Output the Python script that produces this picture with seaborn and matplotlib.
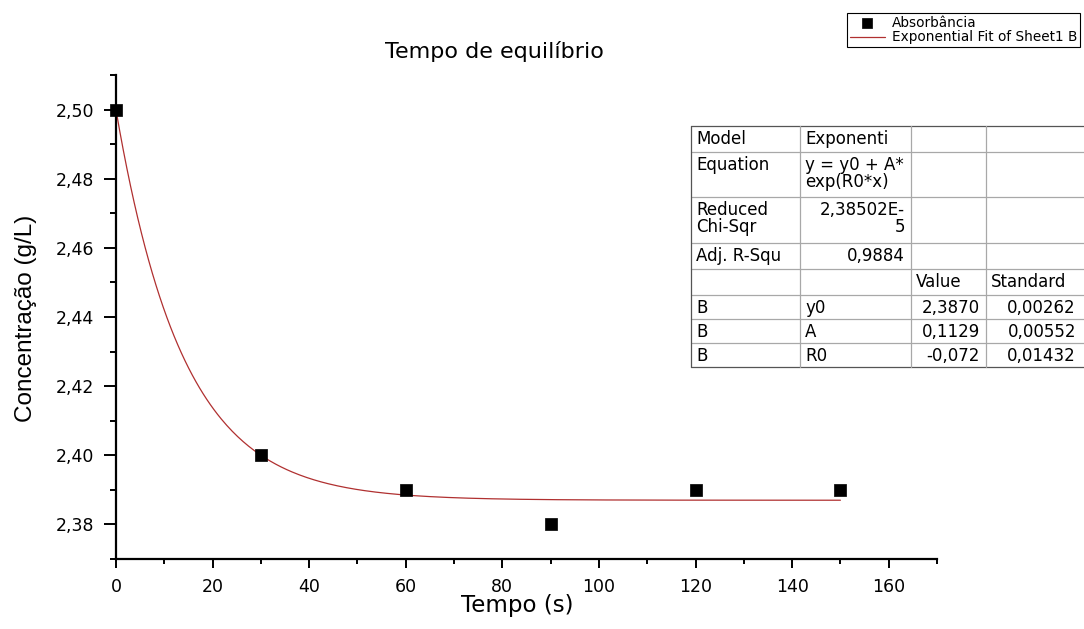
import numpy as np
import pandas as pd
import matplotlib
matplotlib.use("Agg")
import matplotlib.pyplot as plt
import seaborn as sns
from matplotlib.lines import Line2D
from matplotlib.patches import Rectangle
from matplotlib.ticker import FixedLocator, MultipleLocator

# Measured equilibrium data
tempo = [0, 30, 60, 90, 120, 150]
concentracao = [2.50, 2.40, 2.39, 2.38, 2.39, 2.39]

# Exponential fit parameters (y = y0 + A*exp(R0*x))
fit_y0 = 2.3870
fit_A = 0.1129
fit_R0 = -0.072

x_ticks = [0, 20, 40, 60, 80, 100, 120, 140, 160]
x_tick_labels = ["0", "20", "40", "60", "80", "100", "120", "140", "160"]
y_ticks = [2.38, 2.40, 2.42, 2.44, 2.46, 2.48, 2.50]
y_tick_labels = ["2,38", "2,40", "2,42", "2,44", "2,46", "2,48", "2,50"]

# Fit report table
table_cells = [
    ["Model", "Exponenti", "", ""],
    ["Equation", "y = y0 + A*\nexp(R0*x)", "", ""],
    ["Reduced\nChi-Sqr", "2,38502E-\n5", "", ""],
    ["Adj. R-Squ", "0,9884", "", ""],
    ["", "", "Value", "Standard"],
    ["B", "y0", "2,3870", "0,00262"],
    ["B", "A", "0,1129", "0,00552"],
    ["B", "R0", "-0,072", "0,01432"],
]
table_align = [
    ["l", "l", "l", "l"],
    ["l", "l", "l", "l"],
    ["l", "r", "l", "l"],
    ["l", "r", "l", "l"],
    ["l", "l", "l", "l"],
    ["l", "l", "r", "r"],
    ["l", "l", "r", "r"],
    ["l", "l", "r", "r"],
]

sns.set_style("ticks")
plt.rcParams["font.family"] = ["DejaVu Sans"]
plt.rcParams["text.color"] = "black"
plt.rcParams["axes.labelcolor"] = "black"
plt.rcParams["xtick.color"] = "black"
plt.rcParams["ytick.color"] = "black"

W, H = 1084, 629
fig = plt.figure(figsize=(W / 100, H / 100), dpi=100)


def fx(px):
    return px / W


def fy(py):
    return 1 - py / H


ax = fig.add_axes([fx(116), fy(559), fx(937) - fx(116), fy(75) - fy(559)])

df_pts = pd.DataFrame({"Tempo": tempo, "Conc": concentracao})
x_fit = np.linspace(0, 150, 400)
df_fit = pd.DataFrame({"Tempo": x_fit,
                       "Conc": fit_y0 + fit_A * np.exp(fit_R0 * x_fit)})

sns.lineplot(data=df_fit, x="Tempo", y="Conc", ax=ax, color="#b03030",
             linewidth=0.9, label="Exponential Fit of Sheet1 B", zorder=2)
sns.scatterplot(data=df_pts, x="Tempo", y="Conc", ax=ax, marker="s",
                s=80, color="black", edgecolor="black", linewidth=0.5,
                label="Absorbância", zorder=3, clip_on=False)

ax.set_xlim(0, 170)
ax.set_ylim(2.37, 2.51)
ax.xaxis.set_major_locator(FixedLocator(x_ticks))
ax.set_xticklabels(x_tick_labels)
ax.yaxis.set_major_locator(FixedLocator(y_ticks))
ax.set_yticklabels(y_tick_labels)
ax.xaxis.set_minor_locator(MultipleLocator(10))
ax.yaxis.set_minor_locator(MultipleLocator(0.01))

for side in ["top", "right"]:
    ax.spines[side].set_visible(False)
for side in ["left", "bottom"]:
    ax.spines[side].set_linewidth(1.6)
    ax.spines[side].set_color("black")

ax.tick_params(axis="y", which="major", direction="out", length=8.5, width=1.4,
               pad=7, labelsize=12.5, colors="black")
ax.tick_params(axis="y", which="minor", direction="out", length=4.3, width=1.4)
ax.tick_params(axis="x", which="major", direction="out", length=6.5, width=1.4,
               pad=7, labelsize=12.5, colors="black")
ax.tick_params(axis="x", which="minor", direction="out", length=3.5, width=1.4)

ax.set_xlabel("Tempo (s)", fontsize=16.5, va="top", color="black")
ax.xaxis.set_label_coords((517 - 116) / 821, (559 - 594) / 484)
ax.set_ylabel("Concentração (g/L)", fontsize=17.5, family="Liberation Sans",
              va="bottom", color="black")
ax.yaxis.set_label_coords((37 - 116) / 821, (559 - 318) / 484)

fig.text(fx(494), fy(58), "Tempo de equilíbrio", fontsize=16,
         ha="center", va="baseline", color="black")

# Legend in the upper-right corner
handles, labels = ax.get_legend_handles_labels()
ax.get_legend().remove()
order = [labels.index("Absorbância"), labels.index("Exponential Fit of Sheet1 B")]
leg = fig.legend([handles[i] for i in order], [labels[i] for i in order],
                 loc="upper left", bbox_to_anchor=(fx(847), fy(13)),
                 frameon=True, fancybox=False, framealpha=1, edgecolor="black",
                 fontsize=9.8, borderpad=0.2, labelspacing=0.05,
                 handlelength=2.6, handletextpad=0.5, borderaxespad=0,
                 markerscale=0.8)
leg.get_frame().set_linewidth(0.8)
for t in leg.get_texts():
    t.set_color("black")

# Fit report table (last column runs off the right edge)
col_edges = [691, 800, 911, 986, 1095]
col_text_right = [800, 911, 986, 1082]
row_edges = [126, 152, 197, 243, 269, 295, 319, 343, 367]
fig.add_artist(Rectangle((fx(col_edges[0]), fy(row_edges[-1])),
                         fx(col_edges[-1]) - fx(col_edges[0]),
                         fy(row_edges[0]) - fy(row_edges[-1]),
                         transform=fig.transFigure, facecolor="white",
                         edgecolor="none", zorder=5))
for i, yy in enumerate(row_edges):
    outer = i in (0, len(row_edges) - 1)
    fig.add_artist(Line2D([fx(col_edges[0]), fx(col_edges[-1])], [fy(yy), fy(yy)],
                          transform=fig.transFigure,
                          color="#555555" if outer else "#a8a8a8",
                          linewidth=0.9, zorder=6))
for j, xx in enumerate(col_edges):
    outer = j == 0
    fig.add_artist(Line2D([fx(xx), fx(xx)], [fy(row_edges[0]), fy(row_edges[-1])],
                          transform=fig.transFigure,
                          color="#555555" if outer else "#a8a8a8",
                          linewidth=0.9, zorder=6))
for r, row in enumerate(table_cells):
    for c, txt in enumerate(row):
        if not txt:
            continue
        if table_align[r][c] == "l":
            xpos, ha = col_edges[c] + 5, "left"
        else:
            xpos, ha = col_text_right[c] - 6, "right"
        fig.text(fx(xpos), fy(row_edges[r] + 4), txt, fontsize=12, ha=ha,
                 va="top", multialignment=ha, linespacing=0.95,
                 color="black", zorder=7)

fig.savefig("out.png", dpi=100)
